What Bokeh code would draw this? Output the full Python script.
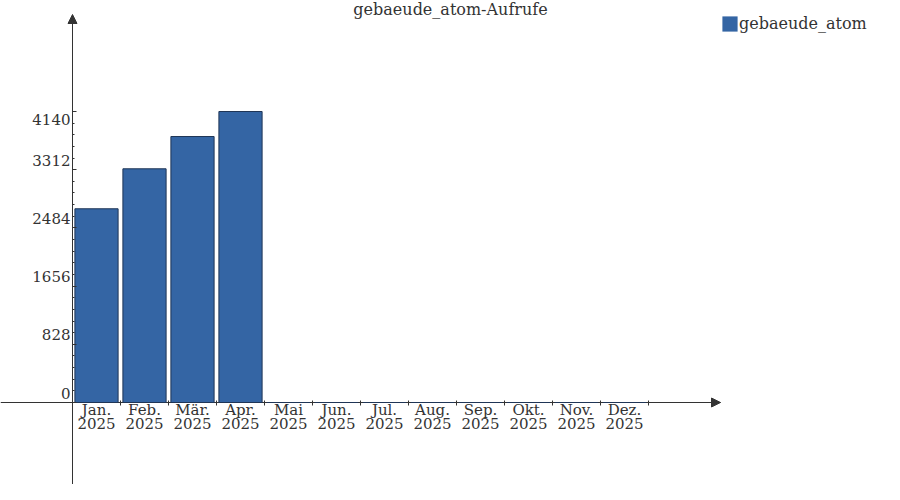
from bokeh.plotting import figure
from bokeh.models import (Range1d, LinearAxis, FixedTicker, Arrow, NormalHead,
                          Label, Legend, LegendItem)
from bokeh.core.properties import value
from bokeh.embed import file_html
from bokeh.resources import INLINE

# ---- data ----
months = ["Jan.", "Feb.", "Mär.", "Apr.", "Mai", "Jun.", "Jul.", "Aug.",
          "Sep.", "Okt.", "Nov.", "Dez."]
year = "2025"
views = [2756, 3325, 3784, 4140, 0, 0, 0, 0, 0, 0, 0, 0]
y_ticks = [0, 828, 1656, 2484, 3312, 4140]
series_name = "gebaeude_atom"
title_text = "gebaeude_atom-Aufrufe"

# ---- geometry (canvas pixels) ----
W, H = 884, 484
X0_PX = 96          # canvas x of first slot centre
SLOT_PX = 48
Y0_PX = 402         # canvas y of value 0
YMAX_PX = 111       # canvas y of top tick
ppu = (Y0_PX - YMAX_PX) / y_ticks[-1]

x_start = -X0_PX / SLOT_PX
x_end = (W - X0_PX) / SLOT_PX
y_start = -(H - Y0_PX) / ppu
y_end = Y0_PX / ppu
y_line_top = (Y0_PX - 22) / ppu
y_apex = (Y0_PX - 14) / ppu
x_line_end = (720 - X0_PX) / SLOT_PX
x_title = (450 - X0_PX) / SLOT_PX

FONT = "DejaVu Serif"
AX = "#333333"
BAR_FILL = "#3465a4"
BAR_LINE = "#1f3556"

idx = list(range(len(months)))
y_axis_x = [-0.5] * len(y_ticks)
y_labels = [str(v) for v in y_ticks]

p = figure(width=W, height=H, output_backend="svg", toolbar_location=None,
           x_range=Range1d(x_start, x_end), y_range=Range1d(y_start, y_end),
           x_axis_location=None, y_axis_location=None, min_border=0,
           outline_line_color=None)
p.grid.grid_line_color = None
p.background_fill_color = "white"
p.border_fill_color = "white"

bars_fill = p.vbar(x=idx, top=views, bottom=0, width=0.9,
                   fill_color=BAR_FILL, line_color=None)
bars_line = p.vbar(x=idx, top=views, bottom=0, width=0.9,
                   fill_color=None, line_color=BAR_LINE, line_width=1)

# x axis
minor_x = [i - 0.5 for i in range(len(months) + 1)]
xaxis = LinearAxis(fixed_location=0,
                   ticker=FixedTicker(ticks=idx, minor_ticks=minor_x),
                   major_label_overrides={i: f"{m}\n{year}" for i, m in enumerate(months)},
                   bounds=(x_start, x_line_end),
                   axis_line_color=AX, major_tick_in=0, major_tick_out=0,
                   minor_tick_in=2, minor_tick_out=3, minor_tick_line_color=AX,
                   major_label_standoff=-5,
                   major_label_text_font=FONT, major_label_text_font_size="15px",
                   major_label_text_color=AX, major_label_text_line_height=0.8)
xaxis.level = "underlay"
p.add_layout(xaxis, "below")

# y axis: line + long ticks (no labels), short minor ticks on a second axis
step = y_ticks[1] - y_ticks[0]
minor_y = [y_ticks[0] + k * step / 5 for k in range(5 * (len(y_ticks) - 1) + 1)]
yaxis = LinearAxis(fixed_location=-0.5,
                   ticker=FixedTicker(ticks=[], minor_ticks=y_ticks),
                   bounds=(y_start, y_line_top),
                   axis_line_color=AX,
                   minor_tick_line_color=AX, minor_tick_in=4, minor_tick_out=0)
p.add_layout(yaxis, "left")
yminor = LinearAxis(fixed_location=-0.5,
                    ticker=FixedTicker(ticks=[], minor_ticks=minor_y),
                    axis_line_color=None,
                    minor_tick_line_color=AX, minor_tick_in=2, minor_tick_out=0)
p.add_layout(yminor, "left")

p.text(x=y_axis_x[:-1], y=y_ticks[:-1], text=y_labels[:-1],
       x_offset=-2, y_offset=-4, text_align="right", text_baseline="bottom",
       text_font=value(FONT), text_font_size="15px", text_color=AX)
p.text(x=y_axis_x[-1:], y=y_ticks[-1:], text=y_labels[-1:],
       x_offset=-2, y_offset=2, text_align="right", text_baseline="top",
       text_font=value(FONT), text_font_size="15px", text_color=AX)

# arrows
p.add_layout(Arrow(end=NormalHead(size=9, fill_color=AX, line_color=AX),
                   x_start=-0.5, y_start=y_line_top, x_end=-0.5, y_end=y_apex,
                   line_color=AX))
p.add_layout(Arrow(end=NormalHead(size=9, fill_color=AX, line_color=AX),
                   x_start=x_line_end - 0.2, y_start=0, x_end=x_line_end, y_end=0,
                   line_color=AX))

# title
p.add_layout(Label(x=x_title, y=y_end, y_offset=1, text=title_text,
                   text_align="center", text_baseline="top",
                   text_font=FONT, text_font_size="16px", text_color=AX))

legend = Legend(items=[LegendItem(label=series_name, renderers=[bars_fill])],
                location=(720, 451), padding=0, spacing=0, margin=0,
                glyph_width=19, glyph_height=19, label_height=19,
                label_standoff=-2, border_line_color=None,
                background_fill_alpha=0,
                label_text_font=FONT, label_text_font_size="16px",
                label_text_color=AX)
p.add_layout(legend)

open("out.html", "w").write(file_html(p, INLINE))
